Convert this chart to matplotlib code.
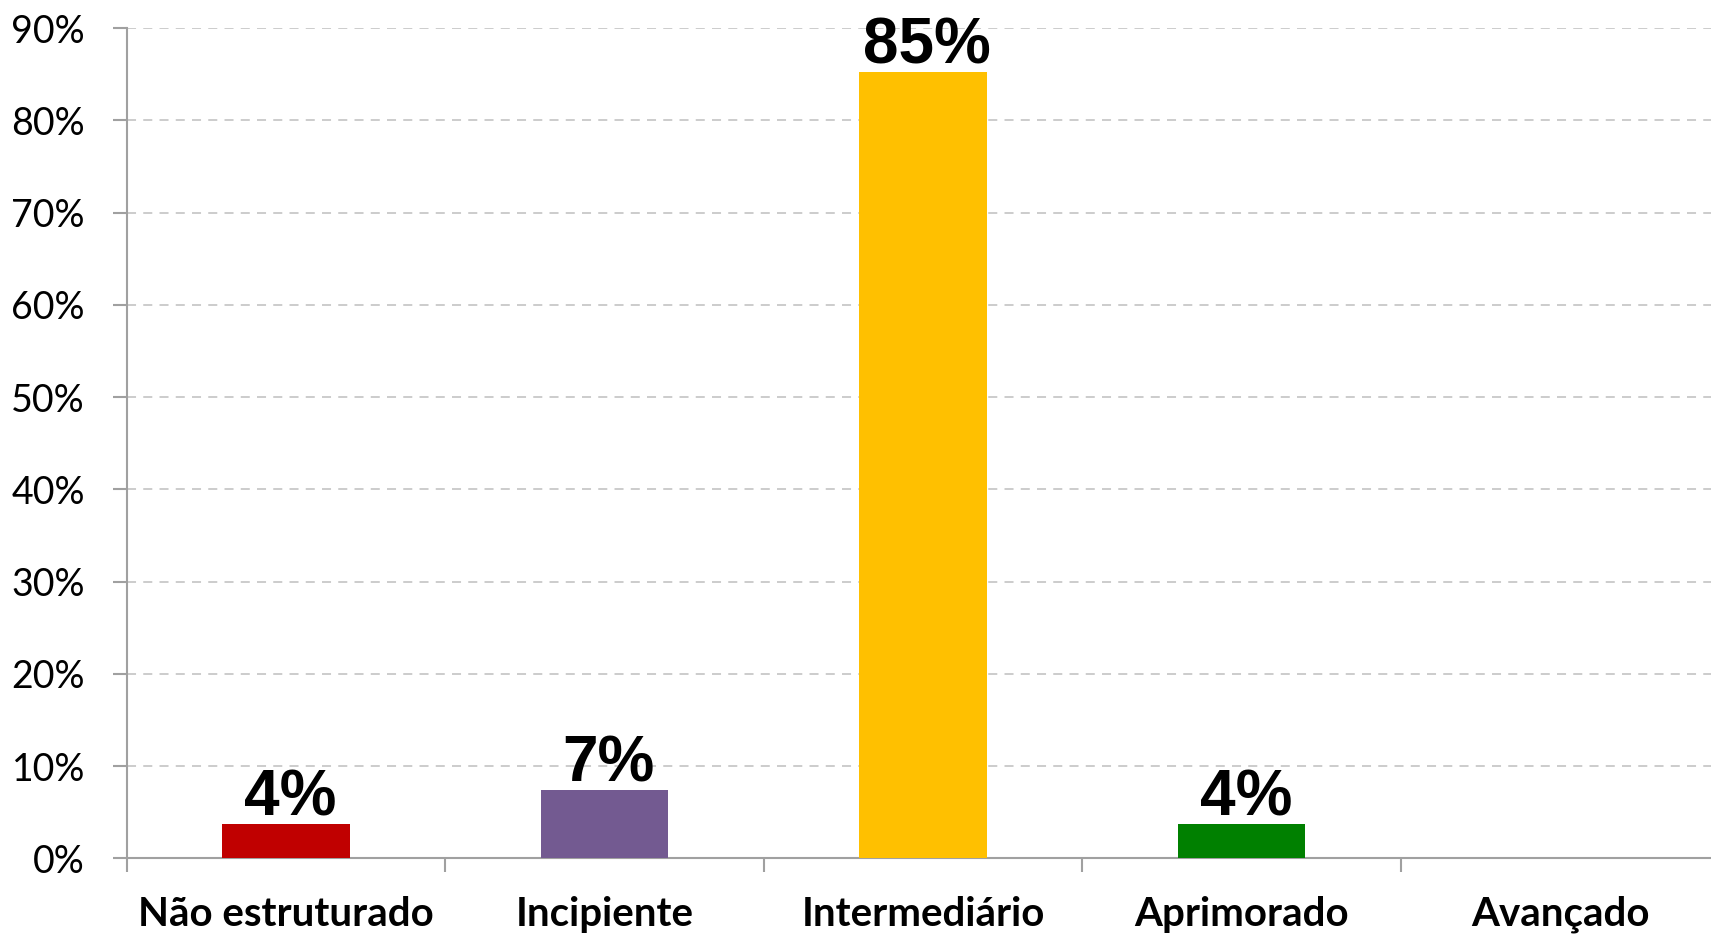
import numpy as np
import matplotlib
matplotlib.use("Agg")
import matplotlib.pyplot as plt

categories = ["Não estruturado", "Incipiente", "Intermediário", "Aprimorado", "Avançado"]
values = [3.7, 7.4, 85.2, 3.7, 0.0]
labels = ["4%", "7%", "85%", "4%", ""]
colors = ["#c00000", "#735a91", "#ffc000", "#008000", "#4472c4"]
yticks = list(range(0, 100, 10))

fig = plt.figure(figsize=(17.11, 9.34), dpi=100)
ax = fig.add_axes([0.074, 0.081, 0.931, 0.889])

x = np.arange(len(categories))
bars = ax.bar(x, values, width=0.40, color=colors, zorder=3)

for b, v, lab in zip(bars, values, labels):
    if lab:
        ax.annotate(lab, (b.get_x() + b.get_width() / 2, v), xytext=(3, -3),
                    textcoords="offset points", ha="center", va="bottom",
                    fontsize=46, fontweight="bold", family="Liberation Sans")

ax.set_xlim(-0.5, len(categories) - 0.5)
ax.set_ylim(0, 90)

# separators between categories, labels in the middle
ax.set_xticks(np.arange(-0.5, len(categories), 1.0))
ax.set_xticklabels([])
ax.set_xticks(x, minor=True)
ax.set_xticklabels(categories, minor=True, fontsize=29, fontweight="bold", family="Lato")
ax.tick_params(axis="x", which="major", length=10, width=1.5, color="#a0a0a0")
ax.tick_params(axis="x", which="minor", length=0, pad=27)

ax.set_yticks(yticks)
ax.set_yticklabels([f"{t}%" for t in yticks], fontsize=27, family="Lato")
ax.tick_params(axis="y", length=10, width=1.5, color="#a0a0a0", pad=20)

ax.yaxis.grid(True, linestyle=(0, (5, 4)), color="#c8c8c8", linewidth=1.3, zorder=0)
for s in ["top", "right"]:
    ax.spines[s].set_visible(False)
for s in ["left", "bottom"]:
    ax.spines[s].set_color("#a0a0a0")
    ax.spines[s].set_linewidth(1.5)

fig.savefig("out.png", dpi=100)
